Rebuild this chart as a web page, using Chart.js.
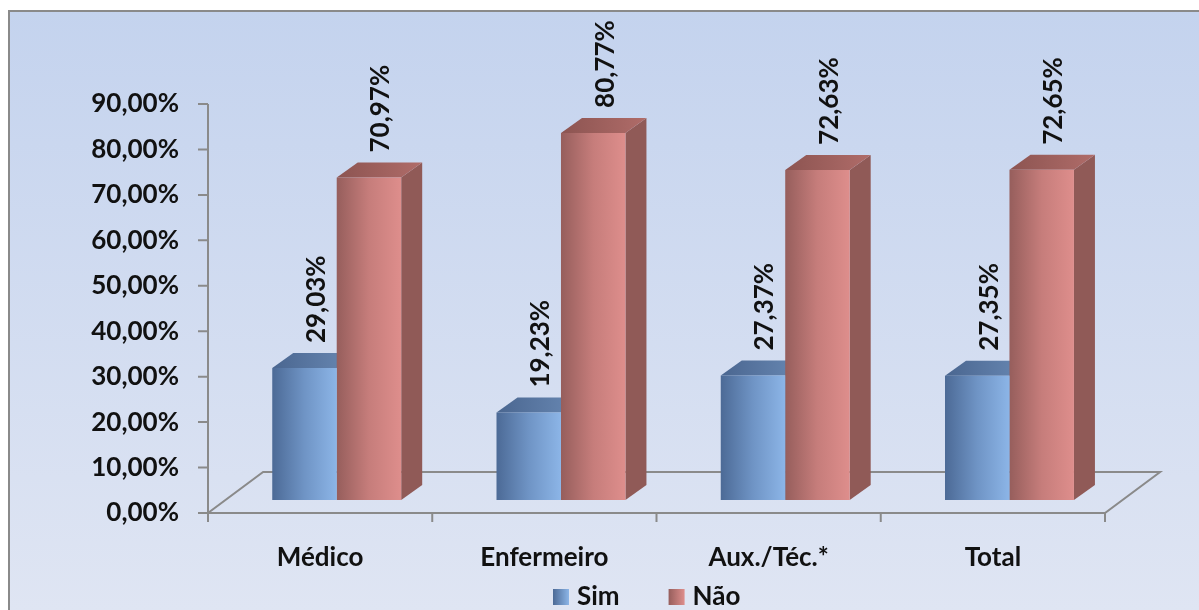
<!DOCTYPE html>
<html>
<head>
<meta charset="utf-8">
<script src="https://cdn.jsdelivr.net/npm/chart.js@4/dist/chart.umd.min.js"></script>
<style>
  html, body { margin: 0; padding: 0; background: #ffffff; }
  #c { display: block; }
</style>
</head>
<body>
<canvas id="c" width="1199" height="610"></canvas>
<script>
// ---- data ----
const categories = ['Médico', 'Enfermeiro', 'Aux./Téc.*', 'Total'];
const seriesNames = ['Sim', 'Não'];
const simValues = [29.03, 19.23, 27.37, 27.35];
const naoValues = [70.97, 80.77, 72.63, 72.65];
const yMin = 0, yMax = 90, yStep = 10;

// ---- style constants ----
const FONT = 'Lato, "Open Sans", sans-serif';
const FONT_SIZE = 26;
const TEXT_COLOR = '#111111';
const LINE_COLOR = '#8a8a8a';
const CAT_PCT = 0.575;
const DEPTH_DX = 21, DEPTH_DY = 15;        // bar top/side extrusion
const FRONT_DX = -16.6, FRONT_DY = 13;     // axis plane offset from bar plane
const BACK_DX = 38.5, BACK_DY = -28;       // back of floor offset from bar plane

const styles = [
  { front: ['#4c6a96', '#6f94c5', '#8cb5e7'], cap: ['#4a6690', '#6a8ab5'], side: '#4f6c96' },
  { front: ['#965e5c', '#c67d7b', '#de8e8c'], cap: ['#8c5451', '#b06c69'], side: '#905a57' }
];

function fmt(v) { return v.toFixed(2).replace('.', ',') + '%'; }

function frontGradient(ctx) {
  const st = styles[ctx.datasetIndex] || styles[0];
  const chart = ctx.chart;
  const xs = chart.scales && chart.scales.x;
  if (!chart.chartArea || !xs || ctx.dataIndex === undefined) return st.front[1];
  const catW = xs.width / categories.length;
  const barW = catW * CAT_PCT / 2;
  const c = xs.getPixelForValue(ctx.dataIndex);
  const left = ctx.datasetIndex === 0 ? c - barW : c;
  const g = chart.ctx.createLinearGradient(left, 0, left + barW, 0);
  g.addColorStop(0, st.front[0]);
  g.addColorStop(0.5, st.front[1]);
  g.addColorStop(1, st.front[2]);
  return g;
}

const decorPlugin = {
  id: 'decor',
  beforeDraw(chart) {
    const c = chart.ctx, W = chart.width, H = chart.height;
    c.save();
    c.fillStyle = '#ffffff';
    c.fillRect(0, 0, W, H);
    const g = c.createLinearGradient(0, 11, 0, H);
    g.addColorStop(0, '#c4d3ee');
    g.addColorStop(1, '#dfe5f3');
    c.fillStyle = g;
    c.fillRect(9, 11, W - 9, H - 11);
    c.strokeStyle = LINE_COLOR;
    c.lineWidth = 2;
    c.beginPath();
    c.moveTo(9, H);
    c.lineTo(9, 11);
    c.lineTo(W, 11);
    c.stroke();
    c.restore();
  },
  beforeDatasetsDraw(chart) {
    const c = chart.ctx;
    const xs = chart.scales.x, ys = chart.scales.y;
    const L = xs.left, R = xs.right;
    const y0 = ys.getPixelForValue(0);
    c.save();
    c.strokeStyle = LINE_COLOR;
    c.lineWidth = 2;
    // floor
    c.beginPath();
    c.moveTo(L + FRONT_DX, y0 + FRONT_DY);
    c.lineTo(R + FRONT_DX, y0 + FRONT_DY);
    c.lineTo(R + BACK_DX, y0 + BACK_DY);
    c.lineTo(L + BACK_DX, y0 + BACK_DY);
    c.closePath();
    c.stroke();
    // y axis line + ticks
    const ax = L + FRONT_DX;
    c.beginPath();
    c.moveTo(ax, ys.getPixelForValue(yMax) + FRONT_DY);
    c.lineTo(ax, y0 + FRONT_DY);
    for (let v = yMin; v <= yMax; v += yStep) {
      const py = ys.getPixelForValue(v) + FRONT_DY;
      c.moveTo(ax - 10, py);
      c.lineTo(ax, py);
    }
    // category ticks
    const catW = (R - L) / categories.length;
    for (let i = 0; i <= categories.length; i++) {
      const px = L + i * catW + FRONT_DX;
      c.moveTo(px, y0 + FRONT_DY);
      c.lineTo(px, y0 + FRONT_DY + 9);
    }
    c.stroke();
    // bar caps and sides
    chart.data.datasets.forEach((ds, di) => {
      const meta = chart.getDatasetMeta(di);
      const st = styles[di];
      meta.data.forEach((el) => {
        const p = el.getProps(['x', 'y', 'width', 'base'], true);
        const l = p.x - p.width / 2, r = p.x + p.width / 2, t = p.y, b = p.base;
        // side
        c.fillStyle = st.side;
        c.beginPath();
        c.moveTo(r, t);
        c.lineTo(r + DEPTH_DX, t - DEPTH_DY);
        c.lineTo(r + DEPTH_DX, b - DEPTH_DY);
        c.lineTo(r, b);
        c.closePath();
        c.fill();
        // cap
        const cg = c.createLinearGradient(l, 0, r + DEPTH_DX, 0);
        cg.addColorStop(0, st.cap[0]);
        cg.addColorStop(1, st.cap[1]);
        c.fillStyle = cg;
        c.beginPath();
        c.moveTo(l, t);
        c.lineTo(r, t);
        c.lineTo(r + DEPTH_DX, t - DEPTH_DY);
        c.lineTo(l + DEPTH_DX, t - DEPTH_DY);
        c.closePath();
        c.fill();
      });
    });
    c.restore();
  },
  afterDatasetsDraw(chart) {
    const c = chart.ctx;
    c.save();
    c.font = 'bold ' + FONT_SIZE + 'px ' + FONT;
    c.fillStyle = TEXT_COLOR;
    chart.data.datasets.forEach((ds, di) => {
      const meta = chart.getDatasetMeta(di);
      meta.data.forEach((el, i) => {
        const p = el.getProps(['x', 'y'], true);
        c.save();
        c.translate(p.x + 12, p.y - DEPTH_DY - 10);
        c.rotate(-Math.PI / 2);
        c.textAlign = 'left';
        c.textBaseline = 'middle';
        c.fillText(fmt(ds.data[i]), 0, 0);
        c.restore();
      });
    });
    // legend
    let x = 553;
    const sy = 589;
    c.textAlign = 'left';
    c.textBaseline = 'alphabetic';
    chart.data.datasets.forEach((ds, di) => {
      const st = styles[di];
      const g = c.createLinearGradient(x, 0, x + 16, 0);
      g.addColorStop(0, st.front[0]);
      g.addColorStop(1, st.front[2]);
      c.fillStyle = g;
      c.fillRect(x, sy, 16, 16);
      c.fillStyle = TEXT_COLOR;
      c.fillText(ds.label, x + 24, 605);
      x += 24 + c.measureText(ds.label).width + 49;
    });
    c.restore();
  }
};

new Chart(document.getElementById('c'), {
  type: 'bar',
  data: {
    labels: categories,
    datasets: [
      { label: seriesNames[0], data: simValues, backgroundColor: frontGradient, borderWidth: 0 },
      { label: seriesNames[1], data: naoValues, backgroundColor: frontGradient, borderWidth: 0 }
    ]
  },
  options: {
    responsive: false,
    animation: false,
    devicePixelRatio: 1,
    layout: { padding: { left: 0, right: 77.4, top: 91, bottom: 0 } },
    datasets: { bar: { categoryPercentage: CAT_PCT, barPercentage: 1.0 } },
    plugins: { legend: { display: false }, tooltip: { enabled: false } },
    scales: {
      x: {
        grid: { display: false, drawTicks: false },
        border: { display: false },
        afterFit: (s) => { s.height = 110; },
        ticks: {
          font: { family: FONT, size: FONT_SIZE, weight: 'bold' },
          color: TEXT_COLOR,
          padding: 42,
          labelOffset: FRONT_DX,
          maxRotation: 0,
          autoSkip: false
        }
      },
      y: {
        min: yMin, max: yMax,
        grid: { display: false, drawTicks: false },
        border: { display: false },
        afterFit: (s) => { s.width = 224.6; },
        ticks: {
          stepSize: yStep,
          font: { family: FONT, size: FONT_SIZE, weight: 'bold' },
          color: TEXT_COLOR,
          padding: 45.6,
          labelOffset: FRONT_DY,
          callback: (v) => fmt(v)
        }
      }
    }
  },
  plugins: [decorPlugin]
});
</script>
</body>
</html>
